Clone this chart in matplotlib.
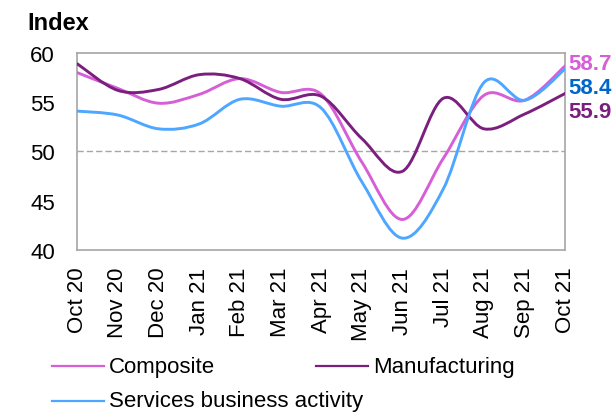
import numpy as np
import matplotlib.pyplot as plt
from matplotlib.path import Path
from matplotlib.patches import PathPatch
from matplotlib.lines import Line2D

plt.rcParams['font.family'] = ['Liberation Sans', 'DejaVu Sans']

months = ['Oct 20', 'Nov 20', 'Dec 20', 'Jan 21', 'Feb 21', 'Mar 21', 'Apr 21',
          'May 21', 'Jun 21', 'Jul 21', 'Aug 21', 'Sep 21', 'Oct 21']
composite = [58.0, 56.4, 54.9, 55.8, 57.4, 56.0, 55.8, 48.9, 43.1, 49.3, 55.7, 55.2, 58.7]
manufacturing = [58.9, 56.2, 56.3, 57.8, 57.4, 55.3, 55.6, 51.3, 48.0, 55.4, 52.3, 53.8, 55.9]
services = [54.1, 53.7, 52.3, 52.8, 55.3, 54.6, 54.4, 46.9, 41.2, 46.2, 57.0, 55.2, 58.4]

series_names = ['Composite', 'Manufacturing', 'Services business activity']
line_colors = ['#D65ED6', '#7B1F7E', '#4DA6FF']
label_colors = ['#D65ED6', '#0066CC', '#7B1F7E']


def smooth_path(x, y):
    """Excel-style smoothed line as cubic bezier path."""
    pts = np.column_stack([x, y]).astype(float)
    n = len(pts)
    verts = [pts[0]]
    codes = [Path.MOVETO]
    for i in range(n - 1):
        p0 = pts[i - 1] if i > 0 else pts[i]
        p1 = pts[i]
        p2 = pts[i + 1]
        p3 = pts[i + 2] if i + 2 < n else pts[i + 1]
        c1 = p1 + (p2 - p0) / 6.0
        c2 = p2 - (p3 - p1) / 6.0
        verts += [c1, c2, p2]
        codes += [Path.CURVE4] * 3
    return Path(verts, codes)


fig = plt.figure(figsize=(6.16, 4.14), dpi=100)
ax = fig.add_axes([0.1255, 0.3937, 0.7922, 0.4759])

x = np.arange(len(months))
ax.axhline(50, color='#A6A6A6', lw=1.0, ls=(0, (4.5, 2.2)), zorder=1)

for vals, col in zip([composite, manufacturing, services], line_colors):
    patch = PathPatch(smooth_path(x, vals), fill=False, edgecolor=col, lw=2.1,
                      capstyle='round', joinstyle='round', zorder=3)
    ax.add_patch(patch)

ax.set_xlim(0, len(months) - 1)
ax.set_ylim(40, 60)
ax.set_yticks([40, 45, 50, 55, 60])
ax.set_xticks(x)
ax.set_xticklabels(months, rotation=90)
ax.tick_params(axis='both', length=0, labelsize=16)
ax.tick_params(axis='y', pad=16)
ax.tick_params(axis='x', pad=12)
for sp in ax.spines.values():
    sp.set_color('#A6A6A6')
    sp.set_linewidth(1.2)

fig.text(27 / 616, 1 - 23 / 414, 'Index', fontsize=17, fontweight='bold',
         ha='left', va='center')

# end-value labels
end_vals = [composite[-1], services[-1], manufacturing[-1]]
end_cols = [label_colors[0], label_colors[1], label_colors[2]]
end_y = [65, 89, 112]
for v, c, yy in zip(end_vals, end_cols, end_y):
    fig.text(568 / 616, 1 - yy / 414, f'{v:.1f}', color=c, fontsize=16,
             fontweight='bold', ha='left', va='center')

# legend drawn by hand to mimic the original layout
legend_items = [(series_names[0], line_colors[0], 52, 367),
                (series_names[1], line_colors[1], 316, 367),
                (series_names[2], line_colors[2], 52, 402)]
for name, col, lx, ly in legend_items:
    yf = 1 - ly / 414
    fig.add_artist(Line2D([lx / 616, (lx + 52) / 616], [yf, yf], color=col, lw=1.6))
    fig.text((lx + 57) / 616, yf, name, fontsize=16, ha='left', va='center')

fig.savefig('out.png', dpi=100)
